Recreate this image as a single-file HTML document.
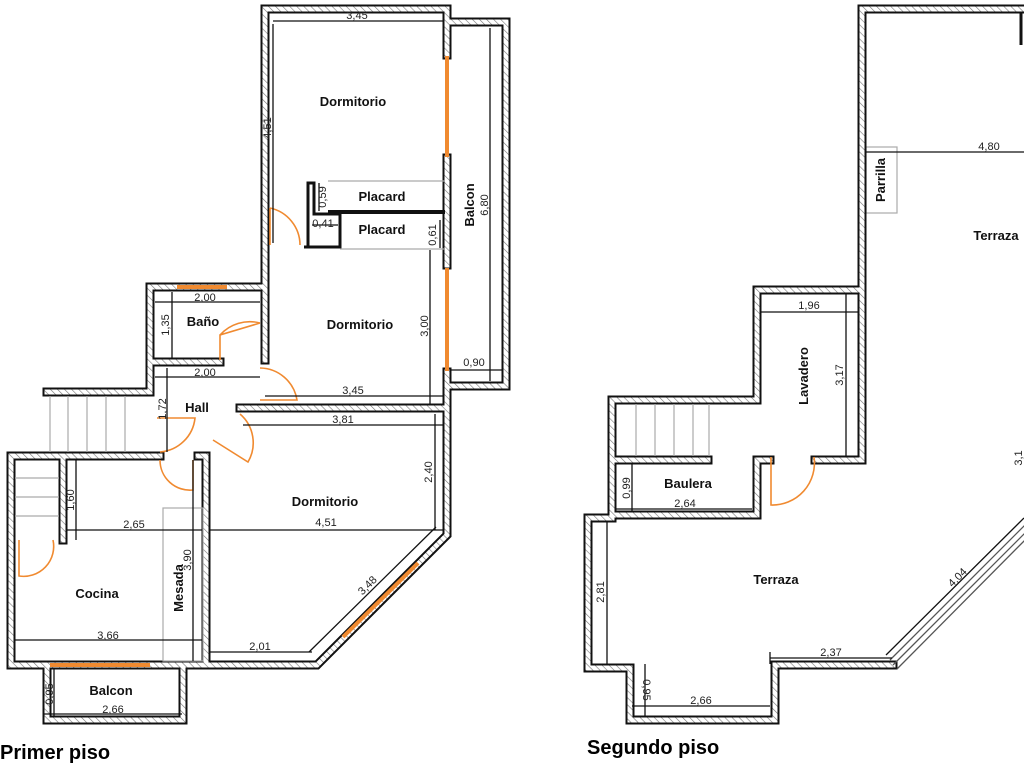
<!DOCTYPE html>
<html><head><meta charset="utf-8"><style>
html,body{margin:0;padding:0;background:#fff;width:1024px;height:768px;overflow:hidden}
svg{display:block}
.w{fill:none;stroke:#111;stroke-width:9;stroke-linejoin:miter;stroke-linecap:square}
.h{fill:none;stroke:url(#hatch);stroke-width:5;stroke-linejoin:miter;stroke-linecap:square}
.win{stroke:#f08a30;stroke-width:4;fill:none}
.door{stroke:#f08a30;stroke-width:1.6;fill:none}
.d{stroke:#111;stroke-width:1.3;fill:none}
.g{stroke:#aaa;stroke-width:1.2;fill:none}
.t{font-family:"Liberation Sans",sans-serif;font-weight:bold;font-size:13px;fill:#111}
.n{font-family:"Liberation Sans",sans-serif;font-size:11px;fill:#222}
.big{font-family:"Liberation Sans",sans-serif;font-weight:bold;font-size:20px;fill:#000}
</style></head><body>
<svg width="1024" height="768" viewBox="0 0 1024 768" xmlns="http://www.w3.org/2000/svg">
<defs>
<pattern id="hatch" width="5" height="5" patternUnits="userSpaceOnUse" patternTransform="rotate(-45)">
<rect width="5" height="5" fill="#fff"/><line x1="0" y1="0" x2="0" y2="5" stroke="#777" stroke-width="1.2"/>
</pattern>
</defs>

<!-- ============ PRIMER PISO ============ -->
<g>
<path class="w" d="M265,360 L265,9 L447,9 L447,55"/>
<path class="w" d="M447,158 L447,265"/>
<path class="w" d="M447,372 L447,535 L317,665 L11,665 L11,456 L160,456"/>
<path class="w" d="M447,22 L506,22 L506,386 L447,386"/>
<path class="w" d="M150,392 L150,287 L265,287"/>
<path class="w" d="M150,362 L220,362"/>
<path class="w" d="M47,392 L150,392"/>
<path class="w" d="M198,456 L206,456 L206,665"/>
<path class="w" d="M240,408 L447,408"/>
<path class="w" d="M47,665 L47,720 L183,720 L183,665"/>
<path class="w" d="M63,456 L63,540"/>
<path class="h" d="M265,360 L265,9 L447,9 L447,55"/>
<path class="h" d="M447,158 L447,265"/>
<path class="h" d="M447,372 L447,535 L317,665 L11,665 L11,456 L160,456"/>
<path class="h" d="M447,22 L506,22 L506,386 L447,386"/>
<path class="h" d="M150,392 L150,287 L265,287"/>
<path class="h" d="M150,362 L220,362"/>
<path class="h" d="M47,392 L150,392"/>
<path class="h" d="M198,456 L206,456 L206,665"/>
<path class="h" d="M240,408 L447,408"/>
<path class="h" d="M47,665 L47,720 L183,720 L183,665"/>
<path class="h" d="M63,456 L63,540"/>
<!-- placard partitions -->
<path d="M304,247 L340,247 L340,214 L314,214 L314,183 L308,183 L308,247" fill="none" stroke="#111" stroke-width="3"/>
<line x1="328" y1="212" x2="445" y2="212" stroke="#111" stroke-width="4"/>
<line x1="328" y1="181" x2="445" y2="181" class="g"/>
<line x1="340" y1="249" x2="445" y2="249" class="g"/>
</g>
<!-- windows -->
<line class="win" x1="447" y1="56" x2="447" y2="157"/>
<line class="win" x1="447" y1="268" x2="447" y2="371"/>
<line class="win" x1="177" y1="287" x2="227" y2="287"/>
<line class="win" x1="50" y1="665" x2="150" y2="665"/>
<line class="win" x1="343" y1="637" x2="418" y2="563"/>
<!-- stairs -->
<g class="g">
<line x1="50" y1="396" x2="50" y2="452"/><line x1="68" y1="396" x2="68" y2="452"/><line x1="87" y1="396" x2="87" y2="452"/><line x1="106" y1="396" x2="106" y2="452"/><line x1="125" y1="396" x2="125" y2="452"/>
<line x1="15" y1="478" x2="59" y2="478"/><line x1="15" y1="497" x2="59" y2="497"/><line x1="15" y1="516" x2="59" y2="516"/>
<rect x="163" y="508" width="40" height="153"/>
<rect x="866" y="147" width="31" height="66"/>
</g>
<!-- doors -->
<path class="door" d="M270,208 L270,245 M270,208 A38,38 0 0 1 300,245"/>
<path class="door" d="M260,323 L220,335 L220,360 M220,335 A40,40 0 0 1 260,323"/>
<path class="door" d="M260,368 A38,38 0 0 1 297,400 L260,400"/>
<path class="door" d="M157,418 L195,418 A38,38 0 0 1 160,452"/>
<path class="door" d="M160,460 A30,30 0 0 0 193,490 L193,460"/>
<path class="door" d="M240,414 A38,38 0 0 1 248,462 L213,440"/>
<path class="door" d="M19,540 L19,576 A30,30 0 0 0 53,540"/>
<!-- dimension lines -->
<g class="d">
<line x1="273" y1="21" x2="443" y2="21"/>
<line x1="273" y1="24" x2="273" y2="243"/>
<line x1="319" y1="183" x2="319" y2="211"/>
<line x1="312" y1="225" x2="338" y2="225"/>
<line x1="440" y1="220" x2="440" y2="248"/>
<line x1="490" y1="28" x2="490" y2="381"/>
<line x1="450" y1="370" x2="502" y2="370"/>
<line x1="155" y1="302" x2="260" y2="302"/>
<line x1="172" y1="292" x2="172" y2="359"/>
<line x1="155" y1="377" x2="260" y2="377"/>
<line x1="167" y1="368" x2="167" y2="452"/>
<line x1="265" y1="396" x2="443" y2="396"/>
<line x1="430" y1="250" x2="430" y2="404"/>
<line x1="243" y1="425" x2="443" y2="425"/>
<line x1="435" y1="414" x2="435" y2="530"/>
<line x1="210" y1="530" x2="443" y2="530"/>
<line x1="76" y1="460" x2="76" y2="540"/>
<line x1="66" y1="530" x2="202" y2="530"/>
<line x1="193" y1="460" x2="193" y2="661"/>
<line x1="14" y1="640" x2="202" y2="640"/>
<line x1="210" y1="652" x2="312" y2="652"/>
<line x1="309" y1="652" x2="436" y2="527"/>
<line x1="54" y1="669" x2="54" y2="716"/>
<line x1="44" y1="714" x2="182" y2="714"/>
</g>
<text class="n" x="357" y="19" text-anchor="middle">3,45</text>
<text class="n" transform="translate(271,128) rotate(-90)" text-anchor="middle">4,51</text>
<text class="n" transform="translate(326,197) rotate(-90)" text-anchor="middle">0,59</text>
<text class="n" x="323" y="227" text-anchor="middle">0,41</text>
<text class="n" transform="translate(436,235) rotate(-90)" text-anchor="middle">0,61</text>
<text class="n" transform="translate(488,205) rotate(-90)" text-anchor="middle">6,80</text>
<text class="n" x="474" y="366" text-anchor="middle">0,90</text>
<text class="n" x="205" y="301" text-anchor="middle">2,00</text>
<text class="n" transform="translate(169,325) rotate(-90)" text-anchor="middle">1,35</text>
<text class="n" x="205" y="376" text-anchor="middle">2,00</text>
<text class="n" transform="translate(166,409) rotate(-90)" text-anchor="middle">1,72</text>
<text class="n" x="353" y="394" text-anchor="middle">3,45</text>
<text class="n" transform="translate(428,326) rotate(-90)" text-anchor="middle">3,00</text>
<text class="n" x="343" y="423" text-anchor="middle">3,81</text>
<text class="n" transform="translate(432,472) rotate(-90)" text-anchor="middle">2,40</text>
<text class="n" x="326" y="526" text-anchor="middle">4,51</text>
<text class="n" transform="translate(74,500) rotate(-90)" text-anchor="middle">1,60</text>
<text class="n" x="134" y="528" text-anchor="middle">2,65</text>
<text class="n" transform="translate(191,560) rotate(-90)" text-anchor="middle">3,90</text>
<text class="n" x="108" y="639" text-anchor="middle">3,66</text>
<text class="n" x="260" y="650" text-anchor="middle">2,01</text>
<text class="n" transform="translate(370,588) rotate(-45)" text-anchor="middle">3,48</text>
<text class="n" transform="translate(53,694) rotate(-90)" text-anchor="middle">0,95</text>
<text class="n" x="113" y="713" text-anchor="middle">2,66</text>

<text class="t" x="353" y="106" text-anchor="middle">Dormitorio</text>
<text class="t" x="382" y="201" text-anchor="middle">Placard</text>
<text class="t" x="382" y="234" text-anchor="middle">Placard</text>
<text class="t" transform="translate(474,205) rotate(-90)" text-anchor="middle">Balcon</text>
<text class="t" x="203" y="326" text-anchor="middle">Baño</text>
<text class="t" x="360" y="329" text-anchor="middle">Dormitorio</text>
<text class="t" x="197" y="412" text-anchor="middle">Hall</text>
<text class="t" x="325" y="506" text-anchor="middle">Dormitorio</text>
<text class="t" x="97" y="598" text-anchor="middle">Cocina</text>
<text class="t" transform="translate(183,588) rotate(-90)" text-anchor="middle">Mesada</text>
<text class="t" x="111" y="695" text-anchor="middle">Balcon</text>
<text class="big" x="0" y="759">Primer piso</text>

<!-- ============ SEGUNDO PISO ============ -->
<g>
<path class="w" d="M1030,9 L862,9 L862,290 L757,290 L757,400 L612,400 L612,518 L588,518 L588,668 L630,668 L630,720 L775,720 L775,665 L893,665"/>
<path class="w" d="M862,290 L862,460 L815,460"/>
<path class="w" d="M770,460 L757,460 L757,515 L612,515"/>
<path class="w" d="M612,460 L708,460"/>
<path class="h" d="M1030,9 L862,9 L862,290 L757,290 L757,400 L612,400 L612,518 L588,518 L588,668 L630,668 L630,720 L775,720 L775,665 L893,665"/>
<path class="h" d="M862,290 L862,460 L815,460"/>
<path class="h" d="M770,460 L757,460 L757,515 L612,515"/>
<path class="h" d="M612,460 L708,460"/>
<line x1="1021" y1="12" x2="1021" y2="45" stroke="#111" stroke-width="3"/>
</g>
<g stroke="#555" stroke-width="1.3" fill="none">
<line x1="890" y1="660" x2="1030" y2="520"/>
<line x1="893" y1="665" x2="1030" y2="528"/>
<line x1="897" y1="669" x2="1030" y2="535"/>
</g>
<g class="g">
<line x1="636" y1="404" x2="636" y2="456"/><line x1="655" y1="404" x2="655" y2="456"/><line x1="674" y1="404" x2="674" y2="456"/><line x1="693" y1="404" x2="693" y2="456"/><line x1="709" y1="404" x2="709" y2="456"/>
</g>
<path class="door" d="M771,457 L771,505 A42,42 0 0 0 814,457"/>
<g class="d">
<line x1="866" y1="152" x2="1024" y2="152"/>
<line x1="760" y1="312" x2="858" y2="312"/>
<line x1="846" y1="294" x2="846" y2="457"/>
<line x1="616" y1="509" x2="752" y2="509"/>
<line x1="632" y1="464" x2="632" y2="512"/>
<line x1="607" y1="522" x2="607" y2="664"/>
<line x1="770" y1="658" x2="892" y2="658"/>
<line x1="770" y1="652" x2="770" y2="664"/>
<line x1="645" y1="664" x2="645" y2="716"/>
<line x1="632" y1="706" x2="770" y2="706"/>
<line x1="886" y1="655" x2="1024" y2="518"/>
</g>
<text class="n" x="989" y="150" text-anchor="middle">4,80</text>
<text class="n" x="809" y="309" text-anchor="middle">1,96</text>
<text class="n" transform="translate(843,375) rotate(-90)" text-anchor="middle">3,17</text>
<text class="n" x="685" y="507" text-anchor="middle">2,64</text>
<text class="n" transform="translate(630,488) rotate(-90)" text-anchor="middle">0,99</text>
<text class="n" transform="translate(604,592) rotate(-90)" text-anchor="middle">2,81</text>
<text class="n" x="831" y="656" text-anchor="middle">2,37</text>
<text class="n" transform="translate(643,690) rotate(90)" text-anchor="middle">0,95</text>
<text class="n" x="701" y="704" text-anchor="middle">2,66</text>
<text class="n" transform="translate(960,580) rotate(-45)" text-anchor="middle">4,04</text>
<text class="n" transform="translate(1022,458) rotate(-90)" text-anchor="middle">3,1</text>
<text class="t" transform="translate(885,180) rotate(-90)" text-anchor="middle">Parrilla</text>
<text class="t" x="996" y="240" text-anchor="middle">Terraza</text>
<text class="t" transform="translate(808,376) rotate(-90)" text-anchor="middle">Lavadero</text>
<text class="t" x="688" y="488" text-anchor="middle">Baulera</text>
<text class="t" x="776" y="584" text-anchor="middle">Terraza</text>
<text class="big" x="587" y="754">Segundo piso</text>
</svg>
</body></html>
